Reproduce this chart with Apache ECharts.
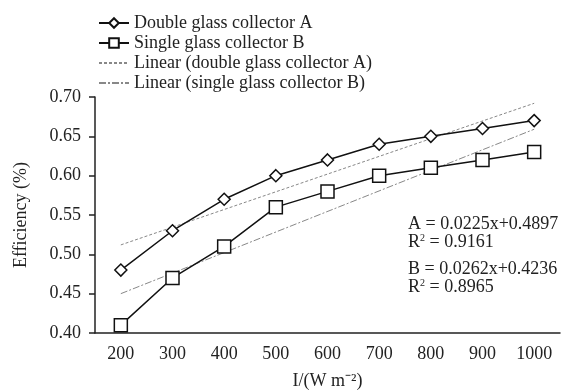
<!DOCTYPE html>
<html>
<head>
<meta charset="utf-8">
<script src="https://cdn.jsdelivr.net/npm/echarts@6/dist/echarts.min.js"></script>
<style>
  html, body { margin: 0; padding: 0; background: #fff; }
  #chart { width: 565px; height: 391px; }
</style>
</head>
<body>
<div id="chart"></div>
<script>
const categories = ['200', '300', '400', '500', '600', '700', '800', '900', '1000'];
const collectorA = [0.48, 0.53, 0.57, 0.60, 0.62, 0.64, 0.65, 0.66, 0.67];
const collectorB = [0.41, 0.47, 0.51, 0.56, 0.58, 0.60, 0.61, 0.62, 0.63];
// trend lines: only end points, straight line in between
const trendA = [0.512, null, null, null, null, null, null, null, 0.692];
const trendB = [0.450, null, null, null, null, null, null, null, 0.659];

const font = 'Liberation Serif';
const fs = 18;
const chart = echarts.init(document.getElementById('chart'));

const option = {
  backgroundColor: '#fff',
  animation: false,
  textStyle: { fontFamily: font, color: '#222' },
  legend: {
    orient: 'vertical',
    left: 93,
    top: 9,
    itemGap: 2,
    itemWidth: 30,
    itemHeight: 12,
    textStyle: { fontFamily: font, fontSize: fs, color: '#222' },
    data: [
      'Double glass collector A',
      'Single glass collector B',
      { name: 'Linear (double glass collector A)', itemStyle: { opacity: 0 } },
      { name: 'Linear (single glass collector B)', itemStyle: { opacity: 0 } }
    ]
  },
  grid: { left: 95, right: 5, top: 97, bottom: 58, outerBoundsMode: 'none', containLabel: false },
  xAxis: {
    type: 'category',
    data: categories,
    boundaryGap: true,
    name: 'I/(W m⁻²)',
    nameLocation: 'middle',
    nameGap: 39,
    nameTextStyle: { fontFamily: font, fontSize: fs, color: '#222' },
    axisLine: { lineStyle: { color: '#222', width: 1.5 } },
    axisTick: { length: 6, lineStyle: { color: '#222', width: 1.5 } },
    axisLabel: { fontFamily: font, fontSize: fs, color: '#222', margin: 12 }
  },
  yAxis: {
    type: 'value',
    min: 0.40,
    max: 0.70,
    interval: 0.05,
    name: 'Efficiency (%)',
    nameLocation: 'middle',
    nameGap: 65,
    nameTextStyle: { fontFamily: font, fontSize: fs, color: '#222' },
    splitLine: { show: false },
    axisLine: { show: true, lineStyle: { color: '#222', width: 1.5 } },
    axisTick: { show: true, length: 6, lineStyle: { color: '#222', width: 1.5 } },
    axisLabel: {
      fontFamily: font, fontSize: fs, color: '#222', margin: 14,
      formatter: v => v.toFixed(2)
    }
  },
  graphic: [
    {
      type: 'text',
      left: 408,
      top: 215,
      style: {
        text: 'A = 0.0225x+0.4897\n{r|R}{s|2}{r| = 0.9161}\n{g|}\nB = 0.0262x+0.4236\n{r|R}{s|2}{r| = 0.8965}',
        fontFamily: font,
        fontSize: fs,
        lineHeight: 18,
        fill: '#222',
        rich: {
          r: { fontFamily: font, fontSize: fs, lineHeight: 18, fill: '#222' },
          s: { fontFamily: font, fontSize: 10, lineHeight: 18, verticalAlign: 'top', fill: '#222' },
          g: { lineHeight: 9, fontSize: 9 }
        }
      }
    }
  ],
  series: [
    {
      name: 'Double glass collector A',
      type: 'line',
      data: collectorA,
      symbol: 'diamond',
      symbolSize: 12,
      z: 5,
      lineStyle: { color: '#111', width: 1.5 },
      itemStyle: { color: '#fff', borderColor: '#111', borderWidth: 1.5 }
    },
    {
      name: 'Single glass collector B',
      type: 'line',
      data: collectorB,
      symbol: 'rect',
      symbolSize: 13,
      z: 5,
      lineStyle: { color: '#111', width: 1.5 },
      itemStyle: { color: '#fff', borderColor: '#111', borderWidth: 1.5 }
    },
    {
      name: 'Linear (double glass collector A)',
      type: 'line',
      data: trendA,
      connectNulls: true,
      symbol: 'none',
      z: 2,
      lineStyle: { color: '#888', width: 1, type: [3, 2] },
      itemStyle: { color: '#888' }
    },
    {
      name: 'Linear (single glass collector B)',
      type: 'line',
      data: trendB,
      connectNulls: true,
      symbol: 'none',
      z: 2,
      lineStyle: { color: '#888', width: 1, type: [7, 2, 2, 2] },
      itemStyle: { color: '#888' }
    }
  ]
};

chart.setOption(option);
</script>
</body>
</html>
